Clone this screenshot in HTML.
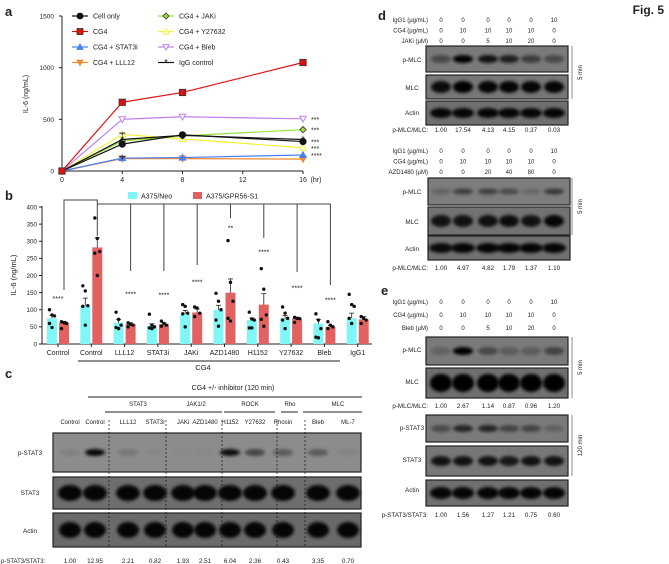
<!DOCTYPE html>
<html><head><meta charset="utf-8"><style>
html,body{margin:0;padding:0;background:#fff}
svg{display:block;font-family:"Liberation Sans",sans-serif}
</style></head><body>
<svg id="fig" width="669" height="564" viewBox="0 0 669 564" xmlns="http://www.w3.org/2000/svg">
<defs><filter id="bl" x="-30%" y="-80%" width="160%" height="260%"><feGaussianBlur stdDeviation="1.6"/></filter></defs>
</svg>
<script>
// ---------- Panel a data ----------
const aTimes=[0,4,8,16];
const aNames=['Cell only','CG4','CG4 + STAT3i','CG4 + LLL12','CG4 + JAKi','CG4 + Y27632','CG4 + Bleb','IgG control'];
const aCellOnly=[0,260,350,285];
const aCG4=[0,665,760,1050];
const aSTAT3i=[0,125,130,155];
const aLLL12=[0,120,120,115];
const aJAKi=[0,290,340,400];
const aY27632=[0,355,310,225];
const aBleb=[0,500,525,505];
const aIgG=[0,305,345,305];
const aYTicks=[0,500,1000,1500];
const aXTicks=[0,4,8,12,16];
const aStars=['***','***','***','***','****'];
// ---------- Panel b data ----------
const bCats=['Control','Control','LLL12','STAT3i','JAKi','AZD1480','H1152','Y27632','Bleb','IgG1'];
const bNeo=[75,112,62,53,88,100,70,75,60,75];
const bGPR=[62,282,58,58,92,150,115,75,50,72];
const bNeoErr=[8,22,10,6,10,13,6,8,12,15];
const bGPRErr=[4,28,4,4,10,40,32,3,4,8];
const bNeoDots=[[100,85,82,60,48],[170,155,112,110,55],[93,72,55,48,45],[87,55,50,47,45],[115,110,90,88,50],[148,125,100,70,52],[93,73,70,47,47],[108,90,75,70,45],[88,70,45,20,18],[145,115,110,75,60]];
const bGPRDots=[[65,62,60,45],[368,308,270,265,200],[62,58,55,50],[67,60,55,52],[108,105,90,80],[302,180,125,75,67],[220,160,85,72,52],[78,75,74,63],[65,55,50,45],[80,75,70,60]];
const bYTicks=[0,50,100,150,200,250,300,350,400];
const bSig=['****','','****','****','****','**','****','****','****',''];
const bSigAt=[135,0,148,145,183,340,270,165,130,0];
// ---------- Panel c data ----------
const cLanes=['Control','Control','LLL12','STAT3i','JAKi','AZD1480','H1152','Y27632','Rhosin','Bleb','ML-7'];
const cRatios=['1.00','12.95','2.21','0.82','1.93','2.51','6.04','2.36','0.43','3.35','0.70'];
const cPSTAT3=[0.08,0.95,0.15,0.03,0.02,0.02,0.9,0.5,0.35,0.35,0.05];
// ---------- Panel d/e data ----------
const dJAKi=['0','0','5','10','20','0'];
const dJAKiRatio=['1.00','17.54','4.13','4.15','0.37','0.03'];
const dAZD=['0','0','20','40','80','0'];
const dAZDRatio=['1.00','4.97','4.82','1.79','1.37','1.10'];
const eBleb=['0','0','5','10','20','0'];
const eMLCRatio=['1.00','2.67','1.14','0.87','0.96','1.20'];
const eSTATRatio=['1.00','1.56','1.27','1.21','0.75','0.60'];
const igg=['0','0','0','0','0','10'];
const cg4=['0','10','10','10','10','0'];

const svg=document.getElementById('fig');
const NS='http://www.w3.org/2000/svg';
function mk(tag,a,p){const e=document.createElementNS(NS,tag);for(const k in a)e.setAttribute(k,a[k]);(p||svg).appendChild(e);return e;}
function tx(x,y,s,size,anchor,extra){const e=mk('text',Object.assign({x:x,y:y,'font-size':size,'text-anchor':anchor||'middle',fill:'#222'},extra||{}));e.textContent=s;return e;}
function grp(name){const g=mk('g',{});return g;}

let t=tx(5,16,'a',13,'start',{'font-weight':'bold'});
t=tx(5,200,'b',13,'start',{'font-weight':'bold'});
t=tx(5,378,'c',13,'start',{'font-weight':'bold'});
t=tx(378,20,'d',13,'start',{'font-weight':'bold'});
t=tx(381,295,'e',13,'start',{'font-weight':'bold'});
t=tx(664,14,'Fig. 5',12,'end',{'font-weight':'bold'});

// ---------- Panel a ----------
const xA=v=>62+v*(241/16), yA=v=>171-v*(155/1500);
const ga=grp('panel-a-line-chart');
mk('line',{x1:62,y1:16,x2:62,y2:171,stroke:'#222','stroke-width':1},ga);
mk('line',{x1:62,y1:171,x2:303,y2:171,stroke:'#222','stroke-width':1},ga);
aYTicks.forEach(v=>{mk('line',{x1:59,y1:yA(v),x2:62,y2:yA(v),stroke:'#222'},ga);ga.appendChild(tx(54,yA(v)+2.5,String(v),6.5,'end'));});
aXTicks.forEach(v=>{mk('line',{x1:xA(v),y1:171,x2:xA(v),y2:174,stroke:'#222'},ga);ga.appendChild(tx(xA(v),182,String(v),7));});
ga.appendChild(tx(316,182,'(hr)',7));
let yl=tx(28,94,'IL-6 (ng/mL)',7,'middle',{transform:'rotate(-90 28 94)'});
const aSeries=[aCellOnly,aCG4,aSTAT3i,aLLL12,aJAKi,aY27632,aBleb,aIgG];
const aColors=['#111','#e01010','#4a7ff0','#f08a30','#9be03a','#f5f03a','#c080f0','#111'];
const aShapes=['circle','square','tri','tridown','diamond','tri','tridown','star'];
const aFill=['#111','#e01010','#4a7ff0','#f08a30','#9be03a','#fff','#fff','#111'];
function marker(shape,x,y,col,fill,s,p){
  if(shape==='circle')return mk('circle',{cx:x,cy:y,r:s,fill:fill,stroke:'#111','stroke-width':0.8},p);
  if(shape==='square')return mk('rect',{x:x-s,y:y-s,width:2*s,height:2*s,fill:fill,stroke:'#333','stroke-width':0.8},p);
  if(shape==='tri')return mk('polygon',{points:`${x},${y-s} ${x-s},${y+s*0.8} ${x+s},${y+s*0.8}`,fill:fill,stroke:col,'stroke-width':1},p);
  if(shape==='tridown')return mk('polygon',{points:`${x},${y+s} ${x-s},${y-s*0.8} ${x+s},${y-s*0.8}`,fill:fill,stroke:col,'stroke-width':1},p);
  if(shape==='diamond')return mk('polygon',{points:`${x},${y-s} ${x+s},${y} ${x},${y+s} ${x-s},${y}`,fill:fill,stroke:'#333','stroke-width':0.8},p);
  return mk('text',{x:x,y:y+3,'font-size':9,'text-anchor':'middle',fill:col},p);
}
const drawOrder=[3,2,5,4,7,0,6,1];
drawOrder.forEach(si=>{
  const g=grp('series-'+aNames[si].toLowerCase().replace(/[^a-z0-9]+/g,'-'));
  ga.appendChild(g);
  const pts=aSeries[si].map((v,i)=>xA(aTimes[i])+','+yA(v)).join(' ');
  const pl=mk('polyline',{points:pts,fill:'none',stroke:aColors[si],'stroke-width':1.2},g);
  
  aSeries[si].forEach((v,i)=>{const m=marker(aShapes[si],xA(aTimes[i]),yA(v),aColors[si],aFill[si],3.2,g);if(aShapes[si]==='star')m.textContent='*';});
});
[[4,aCellOnly[1],12],[4,aY27632[1],12],[4,aSTAT3i[1],14]].forEach(e=>{mk('line',{x1:xA(e[0]),y1:yA(e[1]+e[2]),x2:xA(e[0]),y2:yA(e[1]-e[2]),stroke:'#222'},ga);mk('line',{x1:xA(e[0])-3,y1:yA(e[1]+e[2]),x2:xA(e[0])+3,y2:yA(e[1]+e[2]),stroke:'#222'},ga);});
const starY=[aBleb[3],aJAKi[3],aCellOnly[3],aY27632[3],aSTAT3i[3]];
starY.forEach((v,i)=>{const s=tx(311,yA(v)+3,aStars[i],7,'start');ga.appendChild(s);});
const lg=grp('panel-a-legend');ga.appendChild(lg);
aNames.forEach((n,i)=>{const col=i<4?0:1,row=i%4;const x=col?166:80,y=16+row*15.5;
  const le=grp('legend-entry');lg.appendChild(le);
  mk('line',{x1:x-8,y1:y,x2:x+8,y2:y,stroke:aColors[i],'stroke-width':1.2},le);
  const m=marker(aShapes[i],x,y,aColors[i],aFill[i],3,le);if(aShapes[i]==='star')m.textContent='*';
  le.appendChild(tx(x+13,y+2.5,n,7,'start'));});

// ---------- Panel b ----------
const yB=v=>344-v*0.3425, gX=i=>58+i*33.3;
const gb=grp('panel-b-bar-chart');
mk('line',{x1:42,y1:206,x2:42,y2:344,stroke:'#222'},gb);
mk('line',{x1:42,y1:344,x2:372,y2:344,stroke:'#222'},gb);
bYTicks.forEach(v=>{mk('line',{x1:39,y1:yB(v),x2:42,y2:yB(v),stroke:'#222'},gb);gb.appendChild(tx(37,yB(v)+2.3,String(v),6.3,'end'));});
yl=tx(16,275,'IL-6 (ng/mL)',7.5,'middle',{transform:'rotate(-90 16 275)'});gb.appendChild(yl);
bCats.forEach((c,i)=>{
  const cx=gX(i);mk('line',{x1:cx,y1:344,x2:cx,y2:347,stroke:'#222'},gb);
  [[bNeo,bNeoErr,bNeoDots,'#7ff7f7',-6],[bGPR,bGPRErr,bGPRDots,'#e26262',6]].forEach(s=>{
    const x=cx+s[4],v=s[0][i];
    const r=mk('rect',{x:x-5,y:yB(v),width:10,height:344-yB(v),fill:s[3]},gb);
    
    
    mk('line',{x1:x,y1:yB(v),x2:x,y2:yB(v+s[1][i]),stroke:'#222','stroke-width':0.8},gb);
    mk('line',{x1:x-2.5,y1:yB(v+s[1][i]),x2:x+2.5,y2:yB(v+s[1][i]),stroke:'#222','stroke-width':0.8},gb);
    s[2][i].forEach((d,k)=>{const dot=mk('circle',{cx:x+((k%3)-1)*2.5,cy:yB(d),r:1.7,fill:'#111'},gb);});
  });
  const lab=tx(cx,355,c,7);gb.appendChild(lab);
  if(bSig[i]){const sg=tx(cx+(i===0?0:6),yB(bSigAt[i])+3,bSig[i],7);gb.appendChild(sg);}
});
mk('line',{x1:78,y1:361,x2:340,y2:361,stroke:'#222'},gb);
gb.appendChild(tx(203,370,'CG4',7.5));
const br='#444';
mk('polyline',{points:`${gX(0)+6},290 ${gX(0)+6},200 ${gX(1)+6},200 ${gX(1)+6},${yB(bGPR[1]+bGPRErr[1])-2}`,fill:'none',stroke:br},gb);
mk('line',{x1:gX(1)+6,y1:204,x2:gX(8)+6,y2:204,stroke:br},gb);
[2,3,4,5,6,7,8].forEach(i=>{const ends={2:271,3:271,4:265,5:218,6:238,7:272,8:285};mk('line',{x1:gX(i)+6,y1:204,x2:gX(i)+6,y2:ends[i],stroke:br},gb);});
const blg=grp('panel-b-legend');gb.appendChild(blg);
mk('rect',{x:128,y:192,width:9,height:7,fill:'#7ff7f7'},blg);blg.appendChild(tx(141,198.5,'A375/Neo',7,'start'));
mk('rect',{x:193,y:192,width:9,height:7,fill:'#e26262'},blg);blg.appendChild(tx(206,198.5,'A375/GPR56-S1',7,'start'));

function blot(name,x1,y1,x2,y2,lanesX,w,ints,bg,ry){
  const g=grp(name);
  mk('rect',{x:x1,y:y1,width:x2-x1,height:y2-y1,fill:bg,stroke:'#222','stroke-width':1.2},g);
  lanesX.forEach((lx,i)=>{if(ints[i]>0.01){const b=mk('ellipse',{cx:lx,cy:(y1+y2)/2,rx:w/2,ry:ry||(y2-y1)*0.22,fill:'#050505',opacity:ints[i],filter:'url(#bl)'},g);}});
  return g;
}
// ---------- Panel c ----------
const gc=grp('panel-c-western-blot');
const cX=[70,95,128,155,183,205,230,255,283,318,348];
gc.appendChild(tx(233,390,'CG4 +/- inhibitor (120 min)',7));
mk('line',{x1:88,y1:397,x2:362,y2:397,stroke:'#222'},gc);
[['STAT3',138,105,171],['JAK1/2',196,169,222],['ROCK',250,224,275],['Rho',290,281,298],['MLC',338,303,362]].forEach(h=>{gc.appendChild(tx(h[1],406,h[0],6));mk('line',{x1:h[2],y1:412,x2:h[3],y2:412,stroke:'#222'},gc);});
cLanes.forEach((l,i)=>gc.appendChild(tx(cX[i],424,l,6)));
gc.appendChild(blot('p-stat3-blot',53,433,361,472,cX,20,cPSTAT3,'#8c8c8c',3.5));
gc.appendChild(blot('stat3-blot',53,477,361,509,cX,24,cX.map(()=>0.95),'#6e6e6e',8));
gc.appendChild(blot('actin-blot',53,513,361,547,cX,22,cX.map(()=>0.95),'#6a6a6a',8));
[109,166,222,277,305].forEach(x=>mk('line',{x1:x,y1:420,x2:x,y2:547,stroke:'#111','stroke-dasharray':'2,2','stroke-width':0.7},gc));
gc.appendChild(tx(30,455,'p-STAT3',6.3));gc.appendChild(tx(30,495,'STAT3',6.3));gc.appendChild(tx(30,533,'Actin',6.3));
gc.appendChild(tx(1,563,'p-STAT3/STAT3:',6,'start'));
cRatios.forEach((r,i)=>gc.appendChild(tx(cX[i],563,r,6.3)));

// ---------- Panel d/e ----------
const dX=[441,463,488,509,531,554];
function header(g,y0,third,vals,step){
  [['IgG1 (µg/mL)',igg],['CG4 (µg/mL)',cg4],[third,vals]].forEach((r,k)=>{g.appendChild(tx(428,y0+k*step,r[0],6,'end'));r[1].forEach((v,i)=>g.appendChild(tx(dX[i],y0+k*step,v,6)));});
}
function ratioRow(g,y,label,vals){g.appendChild(tx(428,y,label,6.3,'end'));vals.forEach((v,i)=>g.appendChild(tx(dX[i],y,v,6.3)));}
function side(g,y1,y2,lab){mk('line',{x1:572,y1:y1,x2:572,y2:y2,stroke:'#888'},g);g.appendChild(tx(582,(y1+y2)/2,lab,6,'middle',{transform:`rotate(-90 582 ${(y1+y2)/2})`}));}
function lbl(g,y,s){g.appendChild(tx(412,y,s,6.3));}
const gd=grp('panel-d-western-blot');
header(gd,22,'JAKi (µM)',dJAKi,10.5);
gd.appendChild(blot('d1-p-mlc-blot',426,46,568,72,dX,20,[0.4,1,0.85,0.75,0.5,0.4],'#7a7a7a',4));
gd.appendChild(blot('d1-mlc-blot',426,75,568,99,dX,20,[0.9,1,0.95,0.95,0.95,0.95],'#777',6));
gd.appendChild(blot('d1-actin-blot',426,101,568,125,dX,22,[0.95,0.95,0.95,0.95,0.95,0.95],'#6f6f6f',5));
lbl(gd,62,'p-MLC');lbl(gd,90,'MLC');lbl(gd,115,'Actin');side(gd,46,99,'5 min');
ratioRow(gd,132,'p-MLC/MLC:',dJAKiRatio);
header(gd,153,'AZD1480 (µM)',dAZD,10.5);
gd.appendChild(blot('d2-p-mlc-blot',428,178,570,205,dX,20,[0.2,0.5,0.5,0.4,0.15,0.55],'#7d7d7d',3));
gd.appendChild(blot('d2-mlc-blot',428,207,570,235,dX,20,[0.85,0.85,0.85,0.9,0.85,0.95],'#727272',6));
gd.appendChild(blot('d2-actin-blot',428,236,570,260,dX,24,[0.9,0.95,0.95,0.95,0.95,0.95],'#707070',5));
lbl(gd,194,'p-MLC');lbl(gd,224,'MLC');lbl(gd,251,'Actin');side(gd,178,235,'5 min');
ratioRow(gd,270,'p-MLC/MLC:',dAZDRatio);
const ge=grp('panel-e-western-blot');
header(ge,304,'Bleb (µM)',eBleb,13);
ge.appendChild(blot('e-p-mlc-blot',426,337,568,365,dX,20,[0.2,1,0.4,0.25,0.25,0.45],'#7a7a7a',4));
ge.appendChild(blot('e-mlc-blot',426,368,568,398,dX,22,[1,1,1,1,1,1],'#6f6f6f',9));
ge.appendChild(blot('e-p-stat3-blot',426,415,568,442,dX,20,[0.4,0.7,0.7,0.45,0.45,0.2],'#7a7a7a',3.5));
ge.appendChild(blot('e-stat3-blot',426,446,568,476,dX,20,[0.85,0.85,0.85,0.8,0.85,0.85],'#777',5));
ge.appendChild(blot('e-actin-blot',426,480,568,506,dX,22,[0.95,0.95,0.95,0.95,0.95,0.95],'#707070',6));
lbl(ge,352,'p-MLC');lbl(ge,384,'MLC');lbl(ge,430,'p-STAT3');lbl(ge,462,'STAT3');lbl(ge,492,'Actin');
side(ge,337,398,'5 min');side(ge,415,476,'120 min');
ratioRow(ge,408,'p-MLC/MLC:',eMLCRatio);
ratioRow(ge,517,'p-STAT3/STAT3:',eSTATRatio);
</script>
</body></html>
